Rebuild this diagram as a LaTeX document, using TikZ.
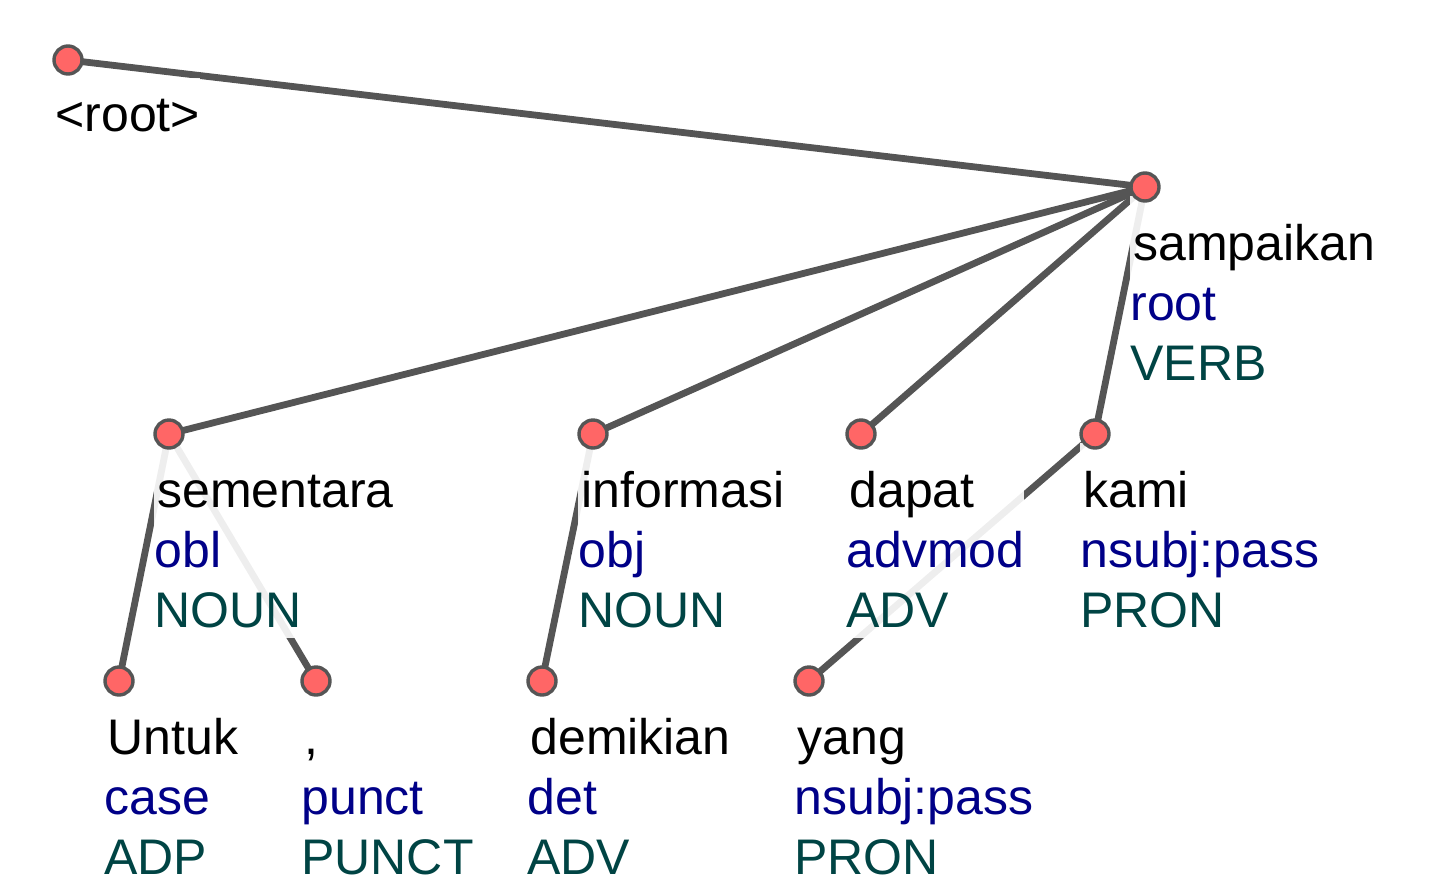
\documentclass[tikz,border=0pt]{standalone}
\usepackage{fontspec}
\setmainfont{Liberation Sans}
\usetikzlibrary{positioning}
\pgfdeclarelayer{back}
\pgfsetlayers{back,main}
\definecolor{edgegray}{HTML}{555555}
\definecolor{tokred}{HTML}{FF6666}
\definecolor{relblue}{HTML}{000088}
\definecolor{tagteal}{HTML}{004444}
\newcommand{\tokinfo}[3]{\rule{0pt}{32pt}\hspace{1.5pt}#1\\\textcolor{relblue}{#2}\\\textcolor{tagteal}{#3}\rule[-5.5pt]{0pt}{5.5pt}}
\begin{document}
\begin{tikzpicture}[x=0.5pt,y=-0.5pt,
		token/.style={circle, fill=tokred, draw=edgegray, line width=1.7pt, minimum size=14pt, inner sep=0pt},
		dep/.style={edgegray, line width=3.4pt},
		info/.style={anchor=north west, inner sep=0pt, align=left, fill=white, fill opacity=0.9, text opacity=1, font=\fontsize{25}{30}\selectfont}]
		\useasboundingbox (0,0) rectangle (1434,889);
		
		% PLACE THE TOKENS
		\node[token] (root) at (68,60) {};
		\node[token] (sampaikan) at (1145,187) {};
		
		\node[token] (sementara) at (169,434) {};
		\node[token] (informasi) at (593,434) {};
		\node[token] (dapat) at (861,434) {};
		\node[token] (kami) at (1095,434) {};
		
		\node[token] (untuk) at (119,681) {};
		\node[token] (comma) at (316,681) {};
		\node[token] (demikian) at (542,681) {};
		\node[token] (yang) at (809,681) {};
		
		\begin{pgfonlayer}{back}
		% DRAW THE DEPENDENCIES
		\draw[dep] (root.center) -- (sampaikan.center);
		\draw[dep] (sampaikan.center) -- (sementara.center);
		\draw[dep] (sampaikan.center) -- (informasi.center);
		\draw[dep] (sampaikan.center) -- (dapat.center);
		\draw[dep] (sampaikan.center) -- (kami.center);
		\draw[dep] (sementara.center) -- (untuk.center);
		\draw[dep] (sementara.center) -- (comma.center);
		\draw[dep] (informasi.center) -- (demikian.center);
		\draw[dep] (kami.center) -- (yang.center);
		
		% WRITE WORD, RELATION AND TAG
		\node[info] (root-info) at ([xshift=-6.5pt,yshift=-9pt]root.center) {\rule{0pt}{26.5pt}<root>};
		\node[info] (sampaikan-info) at ([xshift=-7.5pt,yshift=-4.5pt]sampaikan.center) {\tokinfo{sampaikan}{root}{VERB}};
		
		\node[info] (sementara-info) at ([xshift=-7.5pt,yshift=-4.5pt]sementara.center) {\tokinfo{sementara}{obl}{NOUN}};
		\node[info] (informasi-info) at ([xshift=-7.5pt,yshift=-4.5pt]informasi.center) {\tokinfo{informasi}{obj}{NOUN}};
		\node[info] (dapat-info) at ([xshift=-7.5pt,yshift=-4.5pt]dapat.center) {\tokinfo{dapat}{advmod}{ADV}};
		\node[info] (kami-info) at ([xshift=-7.5pt,yshift=-4.5pt]kami.center) {\tokinfo{kami}{nsubj:pass}{PRON}};
		
		\node[info] (untuk-info) at ([xshift=-7.5pt,yshift=-4.5pt]untuk.center) {\tokinfo{Untuk}{case}{ADP}};
		\node[info] (comma-info) at ([xshift=-7.5pt,yshift=-4.5pt]comma.center) {\tokinfo{,}{punct}{PUNCT}};
		\node[info] (demikian-info) at ([xshift=-7.5pt,yshift=-4.5pt]demikian.center) {\tokinfo{demikian}{det}{ADV}};
		\node[info] (yang-info) at ([xshift=-7.5pt,yshift=-4.5pt]yang.center) {\tokinfo{yang}{nsubj:pass}{PRON}};
		\end{pgfonlayer}
	\end{tikzpicture}
\end{document}
